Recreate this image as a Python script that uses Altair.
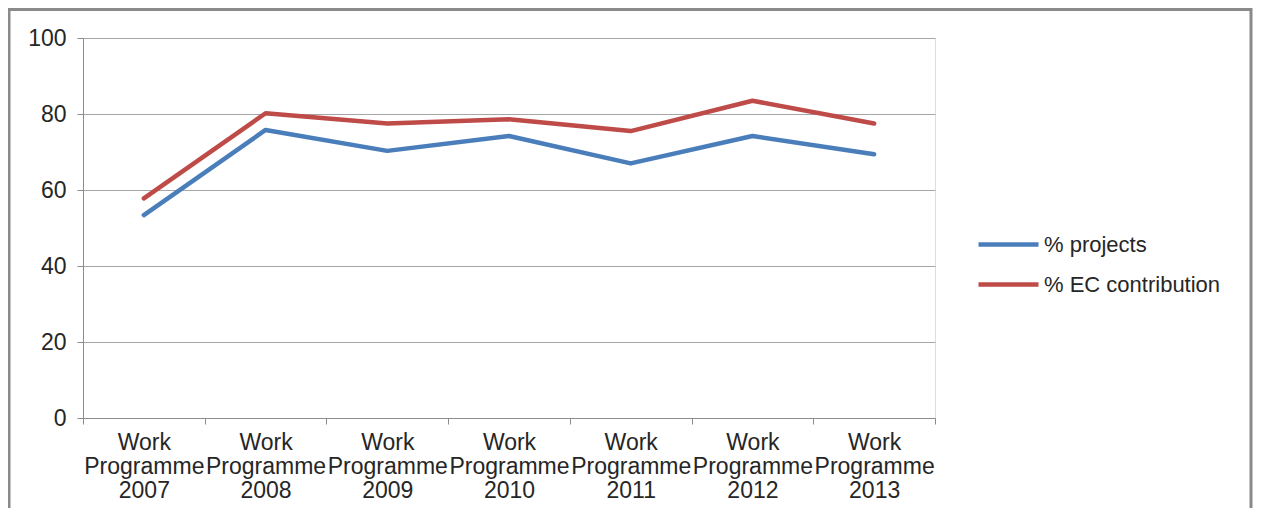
import altair as alt
import pandas as pd

categories = ["Work Programme 2007", "Work Programme 2008", "Work Programme 2009",
              "Work Programme 2010", "Work Programme 2011", "Work Programme 2012",
              "Work Programme 2013"]
series_names = ["% projects", "% EC contribution"]
projects = [53.4, 75.8, 70.3, 74.2, 67.0, 74.2, 69.4]
ec_contribution = [57.8, 80.2, 77.5, 78.6, 75.5, 83.5, 77.5]
y_ticks = [0, 20, 40, 60, 80, 100]
colors = ["#4a7ebb", "#be4b48"]

rows = []
for c, p, e in zip(categories, projects, ec_contribution):
    rows.append({"category": c, "series": series_names[0], "value": p})
    rows.append({"category": c, "series": series_names[1], "value": e})
df = pd.DataFrame(rows)

FONT = "Liberation Sans"
TXT = "#262626"
GRID = "#a6a6a6"
AXIS = "#8c8c8c"
FS = 23

lines = alt.Chart(df).mark_line(strokeWidth=4.5, strokeCap="round", strokeJoin="round").encode(
    x=alt.X("category:N", sort=categories,
            scale=alt.Scale(type="band", paddingInner=0, paddingOuter=0),
            axis=alt.Axis(title=None, labelAngle=0, labelExpr="split(datum.label, ' ')",
                          labelFontSize=FS, labelLineHeight=24, labelFont=FONT,
                          labelColor=TXT, tickBand="extent", tickSize=6,
                          tickColor=AXIS, domainColor=AXIS, labelPadding=7,
                          grid=False, labelBaseline="top", labelLimit=200)),
    y=alt.Y("value:Q", scale=alt.Scale(domain=[0, 100], nice=False),
            axis=alt.Axis(title=None, values=y_ticks, labelFontSize=FS, labelFont=FONT,
                          labelColor=TXT, tickSize=6, tickColor=AXIS, domainColor=AXIS,
                          gridColor=GRID, labelPadding=11)),
    color=alt.Color("series:N", sort=series_names,
                    scale=alt.Scale(domain=series_names, range=colors),
                    legend=alt.Legend(title=None, orient="none", legendX=908, legendY=189,
                                      symbolType="M-2,0H2", symbolSize=900,
                                      symbolStrokeWidth=4.5, labelFontSize=22,
                                      labelFont=FONT, labelColor=TXT, rowPadding=11,
                                      labelOffset=18, labelLimit=400)),
)

border = alt.Chart(alt.Data(values=[{}])).mark_rect(
    fill="transparent", stroke="#8a8a8a", strokeWidth=3
).encode(
    x=alt.value(-74), x2=alt.value(1168), y=alt.value(-28.5), y2=alt.value(620)
)

chart = alt.layer(border, lines).properties(
    width=852, height=380,
    autosize=alt.AutoSizeParams(type="none"),
    padding={"left": 75, "top": 30, "right": 318, "bottom": 90},
).configure_view(stroke=None).configure(background="white")

chart.save("out.html", embed_options={"renderer": "svg", "actions": False})
